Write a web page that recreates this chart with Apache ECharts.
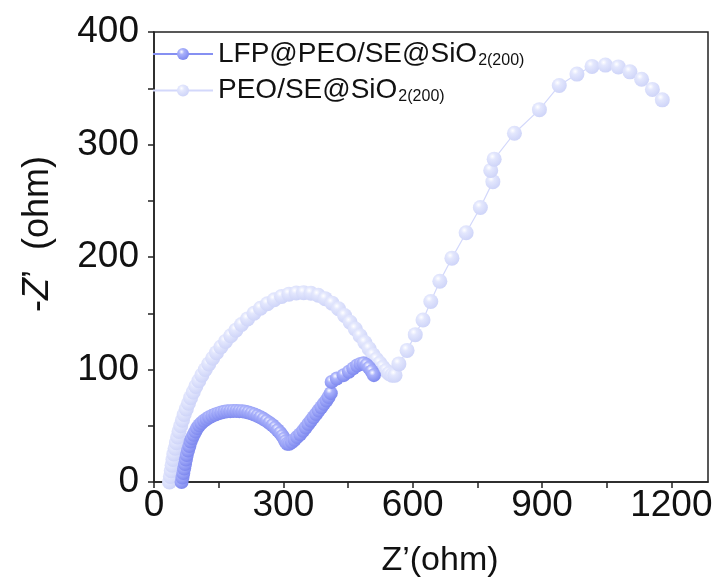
<!DOCTYPE html>
<html>
<head>
<meta charset="utf-8">
<script src="https://cdn.jsdelivr.net/npm/echarts@6/dist/echarts.min.js"></script>
<style>
  html, body { margin: 0; padding: 0; background: #fff; }
  #nyquist-chart { width: 718px; height: 587px; }
</style>
</head>
<body>
<div id="nyquist-chart"></div>
<script>
// series names (legend), data as [Z', -Z'']
const seriesNames = ["LFP@PEO/SE@SiO", "PEO/SE@SiO"];
const subscript = "2(200)";

const lfpData = [
  [64, 0], [66, 4], [68, 8], [70, 12], [72, 16], [74, 20], [76, 24], [79, 28],
  [82, 32], [85, 36], [88, 39], [92, 42], [96, 45], [100, 48], [105, 50.5],
  [110, 52.5], [116, 54.5], [122, 56], [128, 57.5], [135, 58.8], [142, 60],
  [149, 61], [156, 61.8], [163, 62.4], [170, 62.8], [177, 63], [184, 63.2],
  [191, 63.2], [198, 63], [205, 62.8], [212, 62.4], [219, 61.8], [226, 61],
  [233, 60], [240, 58.8], [247, 57.5], [254, 56], [261, 54.3], [268, 52.5],
  [275, 50.5], [281, 48.3], [287, 46], [293, 43.5], [298, 41], [302, 38.5],
  [305, 36], [309, 34], [314, 34], [320, 35.5], [326, 37.5], [332, 40],
  [339, 42.5], [346, 45.5], [352, 48.5], [358, 51.5], [364, 54.5], [370, 57.5],
  [376, 60.5], [382, 63.5], [388, 66.5], [394, 69.5], [400, 72.5], [405, 75.5],
  [410, 79], [412, 89], [424, 92], [440, 95], [452, 98], [462, 101], [471, 103.5],
  [479, 105], [486, 105.5], [493, 104], [499, 101.5], [505, 98.5], [510, 95]
];

const peoData = [
  [36, 0], [38, 5], [40, 10], [42, 15], [44, 20], [46, 25], [49, 30], [52, 35],
  [55, 40], [58, 45], [62, 50], [66, 55], [70, 60], [75, 65], [80, 70], [85, 75],
  [91, 80], [97, 85], [104, 90], [111, 95], [119, 100], [127, 105], [136, 110],
  [145, 115], [155, 120], [166, 125], [178, 130], [190, 135], [203, 140],
  [217, 145], [232, 150], [247, 154.5], [263, 158.5], [279, 162],
  [296, 165], [313, 167], [330, 168], [347, 168.3], [364, 167.8], [381, 166],
  [397, 163], [413, 159], [428, 154], [442, 148], [455, 142], [467, 136],
  [478, 130], [489, 124], [499, 118.5], [508, 113], [516, 109], [524, 105.5],
  [531, 102], [538, 99], [545, 96.5], [552, 95], [559, 95], [568, 105],
  [587, 117], [606, 131], [624, 144], [642, 160.5], [663, 178.5], [691, 199],
  [724, 221.5], [757, 244], [786, 267], [781, 277], [789, 287], [836, 310],
  [894, 331], [940, 352.5], [981, 362.6], [1016, 369.4], [1047, 370.6],
  [1077, 369], [1104, 364.6], [1131, 358], [1156, 349], [1179, 339.7]
];

const xTicks = [0, 150, 300, 450, 600, 750, 900, 1050, 1200];
const xLabels = [0, 300, 600, 900, 1200];
const yTicks = [0, 50, 100, 150, 200, 250, 300, 350, 400];
const yLabels = [0, 100, 200, 300, 400];

const FONT = "Liberation Sans, Arial, sans-serif";

function sphere(base, mid) {
  return {
    type: "radial", x: 0.38, y: 0.32, r: 0.72,
    colorStops: [
      { offset: 0, color: "#ffffff" },
      { offset: 0.3, color: mid },
      { offset: 1, color: base }
    ]
  };
}

(function () {
  let chartDom = document.getElementById("nyquist-chart");
  let myChart = echarts.init(chartDom);
  let option = {
    animation: false,
    backgroundColor: "#fff",
    textStyle: { fontFamily: FONT },
    grid: {
      left: 154, right: 10, top: 32, bottom: 105,
      show: true, borderColor: "#222", borderWidth: 1.5
    },
    legend: {
      orient: "vertical",
      left: 152, top: 40,
      padding: 0,
      itemWidth: 60, itemHeight: 15, itemGap: 8,
      data: seriesNames,
      formatter: function (name) {
        return "{m|" + name + "}{s|" + subscript + "}";
      },
      textStyle: {
        rich: {
          m: { fontSize: 28, color: "#111", fontFamily: FONT, height: 30 },
          s: { fontSize: 16, color: "#111", fontFamily: FONT, padding: [13, 0, 0, 1] }
        }
      }
    },
    xAxis: {
      type: "value",
      min: 0, max: 1285,
      name: "Z’(ohm)",
      nameLocation: "middle",
      nameGap: 62,
      nameTextStyle: { fontSize: 34, color: "#111", fontFamily: FONT, padding: [0, 0, 0, 18] },
      axisLine: { show: true, lineStyle: { color: "#222", width: 1.5 } },
      axisTick: { show: true, length: 6, inside: false, customValues: xTicks, lineStyle: { color: "#222", width: 1.5 } },
      axisLabel: {
        customValues: xLabels, fontSize: 37, color: "#111", margin: 5, fontFamily: FONT,
        formatter: function (v) { return String(v); }
      },
      splitLine: { show: false }
    },
    yAxis: {
      type: "value",
      min: 0, max: 400,
      name: "-{i|Z}’  (ohm)",
      nameLocation: "middle",
      nameGap: 98,
      nameRotate: 90,
      nameTextStyle: {
        fontSize: 36, color: "#111", fontFamily: FONT, padding: [0, 0, 0, 46],
        rich: { i: { fontSize: 36, fontStyle: "italic", color: "#111", fontFamily: FONT } }
      },
      axisLine: { show: true, lineStyle: { color: "#222", width: 1.5 } },
      axisTick: { show: true, length: 6, inside: false, customValues: yTicks, lineStyle: { color: "#222", width: 1.5 } },
      axisLabel: {
        customValues: yLabels, fontSize: 37, color: "#111", margin: 15, fontFamily: FONT,
        formatter: function (v) { return String(v); }
      },
      splitLine: { show: false }
    },
    series: [
      {
        name: seriesNames[0],
        type: "line",
        z: 3,
        data: lfpData,
        symbol: "circle",
        symbolSize: 14,
        showAllSymbol: true,
        lineStyle: { color: "#8690f2", width: 1.2 },
        itemStyle: { color: sphere("#7b86ee", "#aab2fb") }
      },
      {
        name: seriesNames[1],
        type: "line",
        z: 2,
        data: peoData,
        symbol: "circle",
        symbolSize: 15,
        showAllSymbol: true,
        lineStyle: { color: "#d3d8fb", width: 1.2 },
        itemStyle: { color: sphere("#cdd3f8", "#e3e7fd") }
      }
    ]
  };
  option && myChart.setOption(option);
})();
</script>
</body>
</html>
